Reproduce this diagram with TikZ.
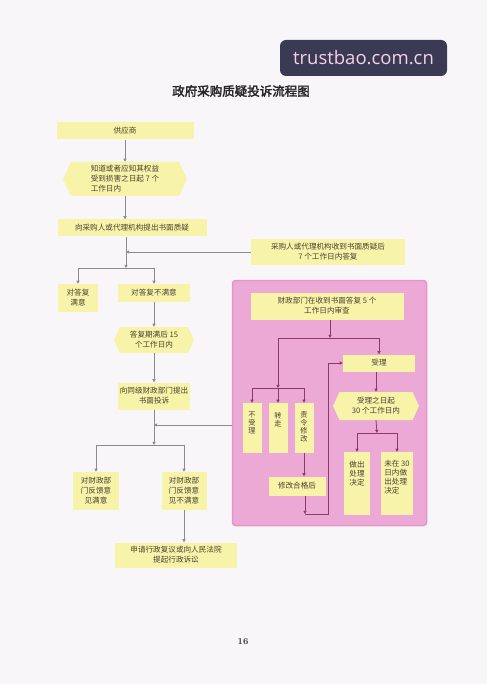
\documentclass[tikz,border=0pt]{standalone}
\usepackage{fontspec}
\newfontfamily\cjk[AutoFakeBold=2.5]{Noto Sans CJK SC}
\newfontfamily\wm{Open Sans}
\usetikzlibrary{shapes.geometric,shapes.symbols,arrows.meta}
\definecolor{bg}{HTML}{F9F6FA}
\definecolor{ybox}{HTML}{F7F3A9}
\definecolor{pinkf}{HTML}{ECA9D6}
\definecolor{pinkd}{HTML}{E496C8}
\definecolor{gline}{HTML}{8C8C8C}
\definecolor{pline}{HTML}{8A3B6C}
\definecolor{txt}{HTML}{4A4030}
\definecolor{wmbg}{HTML}{3B3A55}
\definecolor{wmtx}{HTML}{F3D3E6}
\tikzset{
  yb/.style={fill=ybox, draw=none, text=txt, font=\cjk\fontsize{7.6}{10}\selectfont, align=center, inner sep=1pt},
  hexa/.style={yb, signal, signal to=west and east, signal pointer angle=130},
  vb/.style={yb, minimum width=19pt, minimum height=50pt},
  txtn/.style={text=txt, font=\cjk\fontsize{7.6}{9}\selectfont, inner sep=0pt, anchor=north},
  ga/.style={draw=gline, line width=0.8pt, -{Triangle[width=3.2pt,length=3.2pt]}},
  gl/.style={draw=gline, line width=0.8pt},
  pa/.style={draw=pline, line width=0.8pt, -{Triangle[width=3.2pt,length=3.2pt]}},
  pl/.style={draw=pline, line width=0.8pt},
}
\begin{document}
\begin{tikzpicture}[x=1pt,y=-1pt]
\fill[bg] (0,0) rectangle (487,684);
\useasboundingbox (0,0) rectangle (487,684);

% watermark
\node[fill=wmbg, rounded corners=6pt, minimum width=167pt, minimum height=36pt, inner sep=0pt] (wmbox) at (363.5,58) {};
\node[text=wmtx, font=\wm\fontsize{18.5}{20}\selectfont, inner sep=0pt] (wmtext) at (wmbox) {trustbao.com.cn};

% title
\node[font=\cjk\bfseries\fontsize{12.5}{14}\selectfont, text=black!85] (title) at (241,91) {政府采购质疑投诉流程图};

% pink region
\node[fill=pinkf, draw=pinkd, line width=1.5pt, rounded corners=3pt, minimum width=194pt, minimum height=245pt, inner sep=0pt] (pink) at (329.5,403) {};

% left column
\node[yb, minimum width=137pt, minimum height=17pt] (gys) at (125,131) {供应商};
\node[hexa, minimum width=124pt, minimum height=34pt, align=left] (h1) at (125,179) {知道或者应知其权益\\受到损害之日起 7 个\\工作日内};
\node[yb, minimum width=149pt, minimum height=17pt] (zy) at (132,228) {向采购人或代理机构提出书面质疑};
\node[yb, minimum width=154pt, minimum height=26pt] (reply) at (328,252) {采购人或代理机构收到书面质疑后\\7 个工作日内答复};
\node[yb, minimum width=40pt, minimum height=28pt] (my1) at (78,298) {对答复\\满意};
\node[yb, minimum width=72pt, minimum height=18pt] (bmy1) at (154,293) {对答复不满意};
\node[hexa, minimum width=80pt, minimum height=26pt] (h2) at (154,340) {答复期满后 15\\个工作日内};
\node[yb, minimum width=72pt, minimum height=27pt] (ts) at (154,396) {向同级财政部门提出\\书面投诉};
\node[yb, minimum width=46pt, minimum height=38pt] (my2) at (96,491) {对财政部\\门反馈意\\见满意};
\node[yb, minimum width=45pt, minimum height=38pt] (bmy2) at (184,491) {对财政部\\门反馈意\\见不满意};
\node[yb, minimum width=122pt, minimum height=25pt] (final) at (176,555) {申请行政复议或向人民法院\\提起行政诉讼};

% pink contents
\node[yb, minimum width=153pt, minimum height=27pt] (sc) at (327,306) {财政部门在收到书面答复 5 个\\工作日内审查};
\node[yb, minimum width=72pt, minimum height=17pt] (sl) at (379,363) {受理};
\node[hexa, minimum width=86pt, minimum height=28pt] (h3) at (376,406) {受理之日起\\30 个工作日内};
\node[vb] (bsl) at (252,428) {};
\node[txtn, align=center, font=\cjk\fontsize{7.2}{8}\selectfont] (bslt) at ([yshift=-9pt]bsl.north) {不\\受\\理};
\node[vb] (zz) at (278,428) {};
\node[txtn, align=center, font=\cjk\fontsize{7.2}{8}\selectfont] (zzt) at ([yshift=-9pt]zz.north) {转\\走};
\node[vb] (zl) at (304,428) {};
\node[txtn, align=center, font=\cjk\fontsize{7.2}{8}\selectfont] (zlt) at ([yshift=-8pt]zl.north) {责\\令\\修\\改};
\node[yb, minimum width=57pt, minimum height=19pt] (xg) at (297,486) {修改合格后};
\node[yb, minimum width=26pt, minimum height=63pt] (zc) at (357,483.5) {};
\node[txtn, align=left] (zct) at ([yshift=-9pt]zc.north) {做出\\处理\\决定};
\node[yb, minimum width=32pt, minimum height=63pt] (wz) at (397,483.5) {};
\node[txtn, align=left] (wzt) at ([yshift=-8pt]wz.north) {未在 30\\日内做\\出处理\\决定};

% page number
\node[font=\bfseries\fontsize{9}{10}\selectfont, text=black!80] (pg) at (243,642) {16};

% coordinates
\coordinate (b1) at (126,268);
\coordinate (b2) at (154,445);
\coordinate (p1) at (330,338);
\coordinate (p2) at (278,388);
\coordinate (p3) at (377,433);
\coordinate (q1) at (305,514);
\coordinate (q2) at (328,514);

% gray connectors
\draw[ga] (gys.south -| h1.north) -- (h1.north);
\draw[ga] (h1.south) -- (h1.south |- zy.north);
\draw[ga] (zy.south -| b1) -- (b1);
\draw[ga] (reply.west) -- (reply.west -| b1);
\draw[gl] (my1.north |- b1) -- (bmy1.north |- b1);
\draw[ga] (my1.north |- b1) -- (my1.north);
\draw[ga] (bmy1.north |- b1) -- (bmy1.north);
\draw[ga] (bmy1.south) -- (h2.north);
\draw[ga] (h2.south) -- (ts.north);
\draw[ga] (ts.south) -- (b2);
\draw[ga] (pink.west |- 0,425) -- (ts.south |- 0,425);
\draw[gl] (my2.north |- b2) -- (bmy2.north |- b2);
\draw[ga] (my2.north |- b2) -- (my2.north);
\draw[ga] (bmy2.north |- b2) -- (bmy2.north);
\draw[ga] (bmy2.south) -- (bmy2.south |- final.north);

% pink connectors
\draw[pa] (sc.south -| p1) -- (p1);
\draw[pl] (p1 -| p2) -- (p1 -| sl.north);
\draw[pa] (p1 -| sl.north) -- (sl.north);
\draw[pa] (p1 -| p2) -- (p2);
\draw[pl] (p2 -| bsl.north) -- (p2 -| zl.north);
\draw[pa] (p2 -| bsl.north) -- (bsl.north);
\draw[pa] (p2 -| zz.north) -- (zz.north);
\draw[pa] (p2 -| zl.north) -- (zl.north);
\draw[pa] (zl.south) -- (zl.south |- xg.north);
\draw[pa] (xg.south -| q1) -- (q1);
\draw[pa] (q1) -- (q2) |- (sl.west);
\draw[pa] (sl.south -| h3.north) -- (h3.north);
\draw[pa] (h3.south) -- (p3);
\draw[pl] (p3 -| zc.north) -- (p3 -| wz.north);
\draw[pa] (p3 -| zc.north) -- (zc.north);
\draw[pa] (p3 -| wz.north) -- (wz.north);
\end{tikzpicture}
\end{document}
